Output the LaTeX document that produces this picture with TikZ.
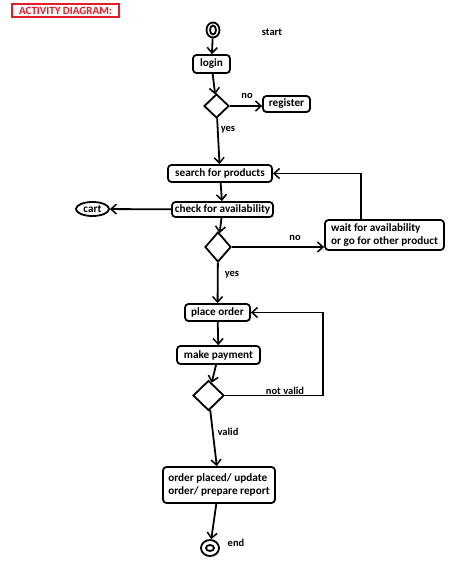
\documentclass[tikz,border=0pt]{standalone}
\usepackage{fontspec}
\setmainfont{Carlito}
\usetikzlibrary{arrows.meta,shapes.geometric}
\definecolor{titlered}{RGB}{225,30,40}
\begin{document}
\begin{tikzpicture}[x=1pt,y=-1pt,line width=1.8pt,
  box/.style={draw,rounded corners=3.5pt,inner sep=1.5pt,font=\bfseries\fontsize{11.2}{13.5}\selectfont},
  dec/.style={draw,diamond,inner sep=0pt},
  lbl/.style={font=\bfseries\fontsize{10.5}{12}\selectfont},
  arr/.style={-{Straight Barb[length=5.5pt,width=10pt,line width=1.5pt]}}]
\useasboundingbox (0,0) rectangle (474,581);
% title
\node[draw=titlered,text=titlered,line width=1.6pt,font=\bfseries\fontsize{11}{12}\selectfont,
  minimum width=107,minimum height=13,inner sep=0pt] (title) at (65.5,10.5) {ACTIVITY DIAGRAM:};
% start
\node[draw,ellipse,minimum width=13,minimum height=15,inner sep=0pt] (start) at (213,30) {};
\draw (start.center) ellipse [x radius=3,y radius=4.5];
\node[lbl] (startlbl) at (272,32) {start};
% nodes
\node[box,minimum width=37,minimum height=18] (login) at (211.5,64) {login};
\node[dec,minimum width=25,minimum height=24] (d1) at (216.5,106) {};
\node[box,minimum width=47,minimum height=16] (register) at (286.5,104) {register};
\node[box,minimum width=104,minimum height=17] (search) at (220,173.5) {search for products};
\node[box,minimum width=101,minimum height=15] (check) at (222.5,209.5) {check for availability};
\node[draw,ellipse,minimum width=33,minimum height=14,inner sep=0pt,font=\bfseries\fontsize{11.2}{13}\selectfont] (cart) at (92.5,209) {cart};
\node[dec,minimum width=26,minimum height=30] (d2) at (218,247) {};
\node[box,minimum width=119,minimum height=30,align=left] (wait) at (384.5,235) {wait for availability\\or go for other product};
\node[box,minimum width=65,minimum height=17] (place) at (217.5,312.5) {place order};
\node[box,minimum width=83,minimum height=18] (pay) at (218.5,355) {make payment};
\node[dec,minimum width=31,minimum height=30] (d3) at (208.5,395.5) {};
\node[box,minimum width=112,minimum height=36,align=left] (done) at (219,485) {order placed/ update\\order/ prepare report};
\node[draw,ellipse,minimum width=18,minimum height=16,inner sep=0pt] (end) at (210,548) {};
\draw (end.center) ellipse [x radius=4,y radius=3];
\node[lbl] (endlbl) at (236,543) {end};
% labels
\node[lbl] (no1) at (247,96) {no};
\node[lbl] (yes1) at (228,130) {yes};
\node[lbl] (no2) at (295,238) {no};
\node[lbl] (yes2) at (232,275) {yes};
\node[lbl] (nv) at (285,391) {not valid};
\node[lbl] (val) at (228,432) {valid};
% connectors
\draw[arr] (start) -- (login);
\draw[arr] (login) -- (d1);
\draw[arr] (d1.east) -- (d1.east -| register.west);
\draw[arr] (d1) -- (search);
\draw[arr] (search) -- (check);
\draw[arr] (check) -- (cart);
\draw[arr] (check) -- (d2);
\draw[arr] (d2.east) -- (d2.east -| wait.west);
\coordinate (wt) at (361,220);
\draw[arr] (wt) |- (search.east);
\draw[arr] (d2) -- (place);
\draw[arr] (place) -- (pay);
\draw[arr] (pay) -- (d3);
\coordinate (nvc) at (323,395.5);
\draw[arr] (d3.east) -- (nvc) |- (place.east);
\draw[arr] (d3) -- (done);
\draw[arr] (done) -- (end);
\end{tikzpicture}
\end{document}
